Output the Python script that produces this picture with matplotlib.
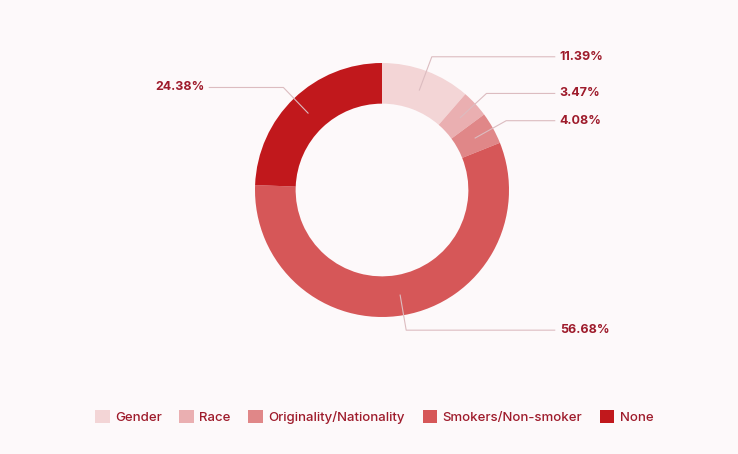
import numpy as np
from matplotlib import pyplot as plt

labels = ["Gender", "Race", "Originality/Nationality", "Smokers/Non-smoker", "None"]
shares = [11.39, 3.47, 4.08, 56.68, 24.38]
colors = ["#f3d5d6", "#eaafb1", "#e08788", "#d65758", "#c1181c"]

text_col = "#9e1b2b"
line_col = "#dcbcc0"
plt.rcParams['font.family'] = ['Inter', 'DejaVu Sans']

W, H = 738, 454
cx, cy, R = 382, 190, 127          # donut centre / radius in pixels

fig = plt.figure(figsize=(W / 100, H / 100), dpi=100, facecolor="#fdf9fa")
ax = fig.add_axes([0, 0, 1, 1])
ax.set_facecolor("#fdf9fa")

wedges, _ = ax.pie(shares, colors=colors, startangle=90, counterclock=False,
                   radius=1.0, wedgeprops=dict(width=0.32, linewidth=0))

# leader lines + labels
start = 90.0
for w, val in zip(wedges, shares):
    mid = np.deg2rad(start - val * 360 / 100 / 2)
    start -= val * 360 / 100
    x0, y0 = 0.84 * np.cos(mid), 0.84 * np.sin(mid)
    x1, y1 = 1.12 * np.cos(mid), 1.12 * np.sin(mid)
    side = 1 if x1 >= 0 else -1
    x2 = 1.36 * side
    ax.plot([x0, x1, x2], [y0, y1, y1], color=line_col, lw=0.8, zorder=3)
    ax.text(x2 + 0.04 * side, y1, "%.2f%%" % val, color=text_col,
            fontsize=9, fontweight="bold",
            ha="left" if side > 0 else "right", va="center")

ax.set_aspect("auto")
ax.set_xlim(-cx / R, (W - cx) / R)
ax.set_ylim(-(H - cy) / R, cy / R)
ax.axis("off")

leg = fig.legend(wedges, labels, loc="center", bbox_to_anchor=(0.507, 1 - 417 / H),
                 ncol=5, frameon=False, handlelength=1.1, handleheight=1.1,
                 handletextpad=0.4, columnspacing=1.35,
                 prop=dict(size=9.5, weight="medium"))
for t in leg.get_texts():
    t.set_color(text_col)

fig.savefig("out.png", dpi=100, facecolor=fig.get_facecolor())
